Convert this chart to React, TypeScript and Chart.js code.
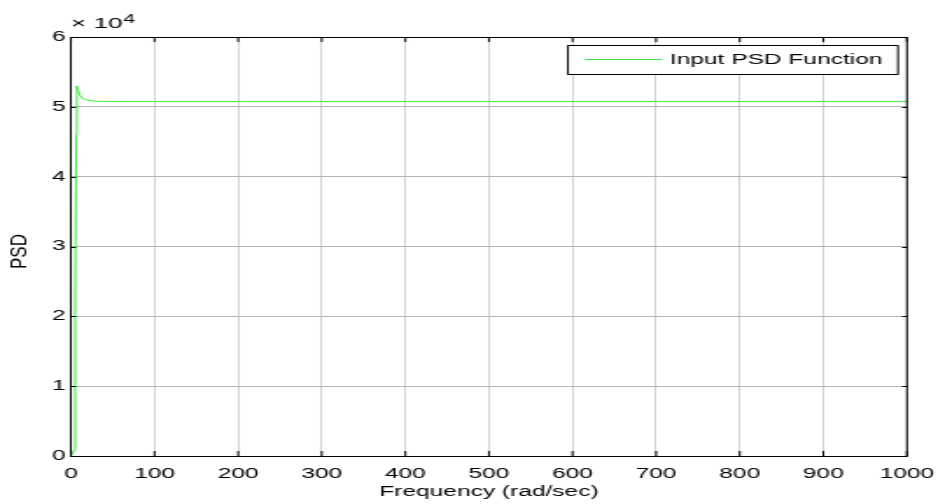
import React, { useEffect, useRef } from "react";
import { Chart, registerables } from "chart.js";

Chart.register(...registerables);

// Data
const frequency: number[] = [0, 3.5, 5, 6.3, 7, 8.5, 11, 15, 22, 30, 50, 100, 200, 300, 400, 500, 600, 700, 800, 900, 1000];
const psdValues: number[] = [0, 800, 22000, 46000, 53000, 52400, 51600, 51100, 50900, 50800, 50760, 50750, 50750, 50750, 50750, 50750, 50750, 50750, 50750, 50750, 50750];
const xTickLabels: string[] = ["0", "100", "200", "300", "400", "500", "600", "700", "800", "900", "1000"];
const yTickLabels: string[] = ["0", "1", "2", "3", "4", "5", "6"];
const seriesLabel = "Input PSD Function";
const xTitle = "Frequency (rad/sec)";
const yTitle = "PSD";
const exponentText = "× 10";
const exponentPower = "4";

// horizontal stretch of the reference image
const S = 1.75;
const CW = Math.round(938 / S);
const CH = 504;
const FONT = "'Liberation Sans', Arial, Helvetica, sans-serif";
const LINE_COLOR = "rgb(60,235,60)";

const framePlugin = {
  id: "matlabFrame",
  afterDatasetsDraw(chart: any) {
    const { ctx, chartArea } = chart;
    const { left, right, top, bottom } = chartArea;
    const xs = chart.scales.x;
    const ys = chart.scales.y;
    ctx.save();
    ctx.strokeStyle = "#000";
    ctx.lineWidth = 1;
    ctx.beginPath();
    ctx.moveTo(left, top + 0.5);
    ctx.lineTo(right, top + 0.5);
    ctx.moveTo(right, top);
    ctx.lineTo(right, bottom);
    ctx.stroke();
    ctx.beginPath();
    xs.ticks.forEach((t: any) => {
      const px = xs.getPixelForValue(t.value);
      ctx.moveTo(px, bottom);
      ctx.lineTo(px, bottom - 5);
      ctx.moveTo(px, top);
      ctx.lineTo(px, top + 5);
    });
    ys.ticks.forEach((t: any) => {
      const py = Math.round(ys.getPixelForValue(t.value)) + 0.5;
      ctx.moveTo(left, py);
      ctx.lineTo(left + 5 / S, py);
      ctx.moveTo(right, py);
      ctx.lineTo(right - 5 / S, py);
    });
    ctx.stroke();

    // exponent label
    ctx.fillStyle = "#000";
    ctx.textAlign = "left";
    ctx.textBaseline = "alphabetic";
    ctx.font = `15px ${FONT}`;
    const ex = 71 / S;
    ctx.fillText(exponentText, ex, 28);
    const w = ctx.measureText(exponentText).width;
    ctx.font = `12px ${FONT}`;
    ctx.fillText(exponentPower, ex + w + 0.3, 23);

    // y axis title (rotated)
    ctx.save();
    ctx.translate(20 / S, (top + bottom) / 2 + 5);
    ctx.scale(0.72, 1);
    ctx.rotate(-Math.PI / 2);
    ctx.font = `17px ${FONT}`;
    ctx.textAlign = "center";
    ctx.textBaseline = "middle";
    ctx.fillText(yTitle, 0, 0);
    ctx.restore();

    // legend box
    const ds = chart.data.datasets[0];
    const lx1 = 568 / S, lx2 = 898 / S, ly1 = 45, ly2 = 74;
    ctx.fillStyle = "#fff";
    ctx.fillRect(lx1, ly1, lx2 - lx1, ly2 - ly1);
    ctx.strokeStyle = "#000";
    ctx.lineWidth = 1;
    ctx.strokeRect(lx1, ly1 + 0.5, lx2 - lx1, ly2 - ly1);
    ctx.strokeStyle = ds.borderColor;
    ctx.beginPath();
    ctx.moveTo(585 / S, 59.5);
    ctx.lineTo(662 / S, 59.5);
    ctx.stroke();
    ctx.fillStyle = "#000";
    ctx.font = `14px ${FONT}`;
    ctx.textBaseline = "middle";
    ctx.textAlign = "left";
    ctx.fillText(ds.label, 670 / S, 60);
    ctx.restore();
  },
};

export default function App() {
  const ref = useRef<HTMLCanvasElement | null>(null);
  useEffect(() => {
    document.body.style.margin = "0";
    const canvas = ref.current;
    if (!canvas) return;
    const chart = new Chart(canvas, {
      type: "line",
      data: {
        datasets: [
          {
            label: seriesLabel,
            data: frequency.map((f, i) => ({ x: f, y: psdValues[i] })),
            borderColor: LINE_COLOR,
            backgroundColor: LINE_COLOR,
            borderWidth: 1,
            pointRadius: 0,
            tension: 0,
            fill: false,
          },
        ],
      },
      options: {
        responsive: false,
        animation: false,
        devicePixelRatio: 1,
        layout: { padding: { left: 0, right: 31 / S, top: 37, bottom: 0 } },
        plugins: { legend: { display: false }, tooltip: { enabled: false } },
        scales: {
          x: {
            type: "linear",
            min: 0,
            max: 1000,
            afterBuildTicks: (s: any) => {
              s.ticks = xTickLabels.map((l) => ({ value: Number(l) }));
            },
            afterFit: (s: any) => {
              s.height = 48;
              s.paddingLeft = 0;
              s.paddingRight = 0;
            },
            ticks: {
              color: "#000",
              font: { family: FONT, size: 14 },
              padding: 10,
              maxRotation: 0,
              autoSkip: false,
              callback: (_v: any, i: number) => xTickLabels[i],
            },
            grid: { color: "#b4b4b4", lineWidth: 0.6, drawTicks: false },
            border: { display: true, color: "#000", width: 1 },
            title: {
              display: true,
              text: xTitle,
              color: "#000",
              font: { family: FONT, size: 14 },
              padding: { top: 0, bottom: 3 },
            },
          },
          y: {
            type: "linear",
            min: 0,
            max: 60000,
            afterBuildTicks: (s: any) => {
              s.ticks = yTickLabels.map((l) => ({ value: Number(l) * 10000 }));
            },
            afterFit: (s: any) => {
              s.width = 71 / S;
              s.paddingTop = 0;
              s.paddingBottom = 0;
            },
            ticks: {
              color: "#000",
              font: { family: FONT, size: 14 },
              padding: 3,
              autoSkip: false,
              callback: (_v: any, i: number) => yTickLabels[i],
            },
            grid: { color: "#b4b4b4", lineWidth: 1, drawTicks: false },
            border: { display: true, color: "#000", width: 1 },
            title: { display: false, text: yTitle },
          },
        },
      },
      plugins: [framePlugin],
    });
    return () => chart.destroy();
  }, []);
  return (
    <canvas
      ref={ref}
      width={CW}
      height={CH}
      style={{ width: "938px", height: "504px", display: "block", background: "#fff" }}
    />
  );
}
